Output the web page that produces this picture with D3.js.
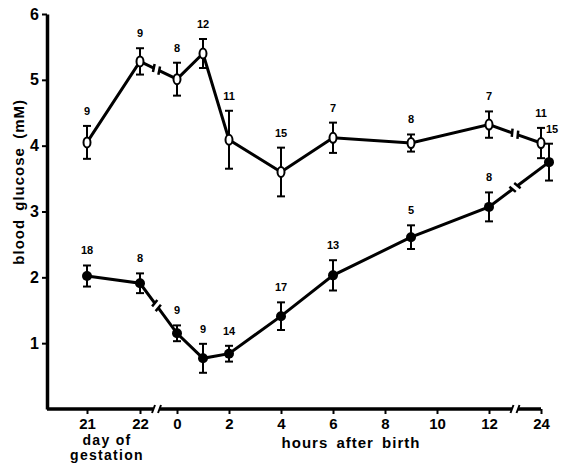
<!DOCTYPE html>
<html>
<head>
    <script src="https://d3js.org/d3.v7.min.js" charset="utf-8"></script>
    <style type="text/css">
        body { margin: 0; background: #fff; }
        text { font-family: "Liberation Sans", Arial, sans-serif; font-weight: bold; fill: #000; }
        .tick line { stroke: #000; stroke-width: 2; }
        .tick text { font-size: 15px; }
        .nlab { font-size: 11px; }
    </style>
</head>
<body>

<svg height="463" width="561"></svg>

<script>
    // sampling times: two days of gestation, then hours after birth
    var period = ["day", "day", "hour", "hour", "hour", "hour", "hour", "hour", "hour", "hour"];
    var times = [21, 22, 0, 1, 2, 4, 6, 9, 12, 24];

    // upper curve (open symbols)
    var upperMean = [4.05, 5.28, 5.01, 5.40, 4.09, 3.60, 4.12, 4.04, 4.32, 4.04];
    var upperSem  = [0.25, 0.20, 0.25, 0.22, 0.44, 0.37, 0.23, 0.13, 0.20, 0.23];
    var upperN    = [9, 9, 8, 12, 11, 15, 7, 8, 7, 11];

    // lower curve (filled symbols)
    var lowerMean = [2.02, 1.91, 1.15, 0.77, 0.84, 1.41, 2.03, 2.61, 3.07, 3.75];
    var lowerSem  = [0.16, 0.15, 0.12, 0.22, 0.12, 0.21, 0.23, 0.18, 0.22, 0.28];
    var lowerN    = [18, 8, 9, 9, 14, 17, 13, 5, 8, 15];

    var dayTicks = [21, 22];
    var hourTicks = [0, 2, 4, 6, 8, 10, 12, 24];
    var yTicks = [1, 2, 3, 4, 5, 6];

    var svg = d3.select("svg");
    var axisX = 47;

    var y = d3.scaleLinear().domain([0, 6]).range([409, 14]);
    var xDay = d3.scaleLinear().domain([21, 22]).range([87, 140]);
    // 0-12 h linear, then compressed to 24 h after the break
    var xHour = d3.scaleLinear().domain([0, 12, 24]).range([177, 489, 541]);

    function xPos(i) {
        return period[i] === "day" ? xDay(times[i]) : xHour(times[i]);
    }

    var breakL = (xDay(22) + xHour(0)) / 2 - 2;
    var breakR = (xHour(12) + xHour(24)) / 2;
    var gap = 3;

    // y axis
    svg.append("g")
        .attr("transform", "translate(" + axisX + ",0)")
        .call(d3.axisLeft(y).tickValues(yTicks).tickSize(5).tickSizeOuter(0).tickPadding(3).tickFormat(d3.format("d")))
        .call(function(g) {
            g.select(".domain").attr("stroke-width", 3.5);
            g.selectAll(".tick text").style("font-size", "16px");
        });

    // x axis ticks (two scales)
    var y0 = y(0);
    [[xDay, dayTicks], [xHour, hourTicks]].forEach(function(p) {
        svg.append("g")
            .attr("transform", "translate(0," + y0 + ")")
            .call(d3.axisBottom(p[0]).tickValues(p[1]).tickSize(5).tickPadding(4).tickFormat(d3.format("d")))
            .call(function(g) { g.select(".domain").remove(); });
    });

    // x axis line with breaks
    var axSegs = [[axisX, breakL - gap], [breakL + gap, breakR - gap], [breakR + gap, xHour(24)]];
    axSegs.forEach(function(s) {
        svg.append("line")
            .attr("x1", s[0]).attr("x2", s[1])
            .attr("y1", y0).attr("y2", y0)
            .attr("stroke", "#000").attr("stroke-width", 3.5);
    });
    [breakL - gap, breakL + gap, breakR - gap, breakR + gap].forEach(function(bx) {
        svg.append("line")
            .attr("x1", bx - 1.5).attr("x2", bx + 1.5)
            .attr("y1", y0 + 4).attr("y2", y0 - 4)
            .attr("stroke", "#000").attr("stroke-width", 2);
    });

    // axis titles
    svg.append("text")
        .attr("transform", "translate(24," + y(3.45) + ") rotate(-90)")
        .attr("text-anchor", "middle")
        .style("font-size", "15px").style("letter-spacing", "1px").style("word-spacing", "3px")
        .text("blood glucose (mM)");

    svg.append("text")
        .attr("x", 351).attr("y", 448)
        .attr("text-anchor", "middle")
        .style("font-size", "15px").style("letter-spacing", "1px").style("word-spacing", "3px")
        .text("hours after birth");

    svg.append("text")
        .attr("x", 107).attr("y", 445)
        .attr("text-anchor", "middle")
        .style("font-size", "14px").style("letter-spacing", "1.3px")
        .text("day of");

    svg.append("text")
        .attr("x", 107).attr("y", 460)
        .attr("text-anchor", "middle")
        .style("font-size", "14px").style("letter-spacing", "1.3px")
        .text("gestation");

    function drawSeries(mean, sem, ns, filled, lastNudge) {
        var g = svg.append("g");
        var pts = mean.map(function(m, i) {
            var px = xPos(i) + (i === mean.length - 1 ? lastNudge : 0);
            return [px, y(m)];
        });

        // connecting line, split at the two axis breaks
        var breaks = {1: breakL, 8: breakR};
        var segs = [];
        var cur = [pts[0]];
        var marks = [];
        for (var i = 1; i < pts.length; i++) {
            var a = pts[i - 1], b = pts[i];
            if (breaks[i - 1] !== undefined) {
                var bx = breaks[i - 1];
                var dx = b[0] - a[0], dy = b[1] - a[1];
                var len = Math.sqrt(dx * dx + dy * dy);
                var ux = dx / len, uy = dy / len;
                var t = (bx - a[0]) / dx;
                var cx = a[0] + dx * t, cy = a[1] + dy * t;
                var p1 = [cx - ux * gap, cy - uy * gap];
                var p2 = [cx + ux * gap, cy + uy * gap];
                cur.push(p1);
                segs.push(cur);
                cur = [p2, b];
                marks.push([p1, ux, uy], [p2, ux, uy]);
            } else {
                cur.push(b);
            }
        }
        segs.push(cur);

        g.selectAll("path.seg").data(segs).enter().append("path")
            .attr("class", "seg")
            .attr("d", d3.line())
            .attr("fill", "none").attr("stroke", "#000").attr("stroke-width", 3);

        g.selectAll("line.brk").data(marks).enter().append("line")
            .attr("class", "brk")
            .attr("x1", function(d) { return d[0][0] - d[2] * 4 + d[1] * 1; })
            .attr("y1", function(d) { return d[0][1] + d[1] * 4 + d[2] * 1; })
            .attr("x2", function(d) { return d[0][0] + d[2] * 4 - d[1] * 1; })
            .attr("y2", function(d) { return d[0][1] - d[1] * 4 - d[2] * 1; })
            .attr("stroke", "#000").attr("stroke-width", 2.5);

        // error bars
        var eb = g.selectAll("g.eb").data(mean).enter().append("g").attr("class", "eb");
        eb.append("line")
            .attr("x1", function(d, i) { return pts[i][0]; })
            .attr("x2", function(d, i) { return pts[i][0]; })
            .attr("y1", function(d, i) { return y(d + sem[i]); })
            .attr("y2", function(d, i) { return y(d - sem[i]); })
            .attr("stroke", "#000").attr("stroke-width", 2);
        [1, -1].forEach(function(sgn) {
            eb.append("line")
                .attr("x1", function(d, i) { return pts[i][0] - 4; })
                .attr("x2", function(d, i) { return pts[i][0] + 4; })
                .attr("y1", function(d, i) { return y(d + sgn * sem[i]); })
                .attr("y2", function(d, i) { return y(d + sgn * sem[i]); })
                .attr("stroke", "#000").attr("stroke-width", 2);
        });

        // markers
        if (filled) {
            g.selectAll("circle").data(pts).enter().append("circle")
                .attr("cx", function(d) { return d[0]; })
                .attr("cy", function(d) { return d[1]; })
                .attr("r", 5).attr("fill", "#000");
        } else {
            g.selectAll("ellipse").data(pts).enter().append("ellipse")
                .attr("cx", function(d) { return d[0]; })
                .attr("cy", function(d) { return d[1]; })
                .attr("rx", 3.5).attr("ry", 5)
                .attr("fill", "#fff").attr("stroke", "#000").attr("stroke-width", 2);
        }

        // n labels
        g.selectAll("text").data(ns).enter().append("text")
            .attr("class", "nlab")
            .attr("text-anchor", "middle")
            .attr("x", function(d, i) { return pts[i][0] + (filled && i === ns.length - 1 ? 3 : 0); })
            .attr("y", function(d, i) { return y(mean[i] + sem[i]) - 11; })
            .text(function(d) { return d; });
    }

    drawSeries(lowerMean, lowerSem, lowerN, true, 8);
    drawSeries(upperMean, upperSem, upperN, false, 0);
</script>
</body>
</html>
